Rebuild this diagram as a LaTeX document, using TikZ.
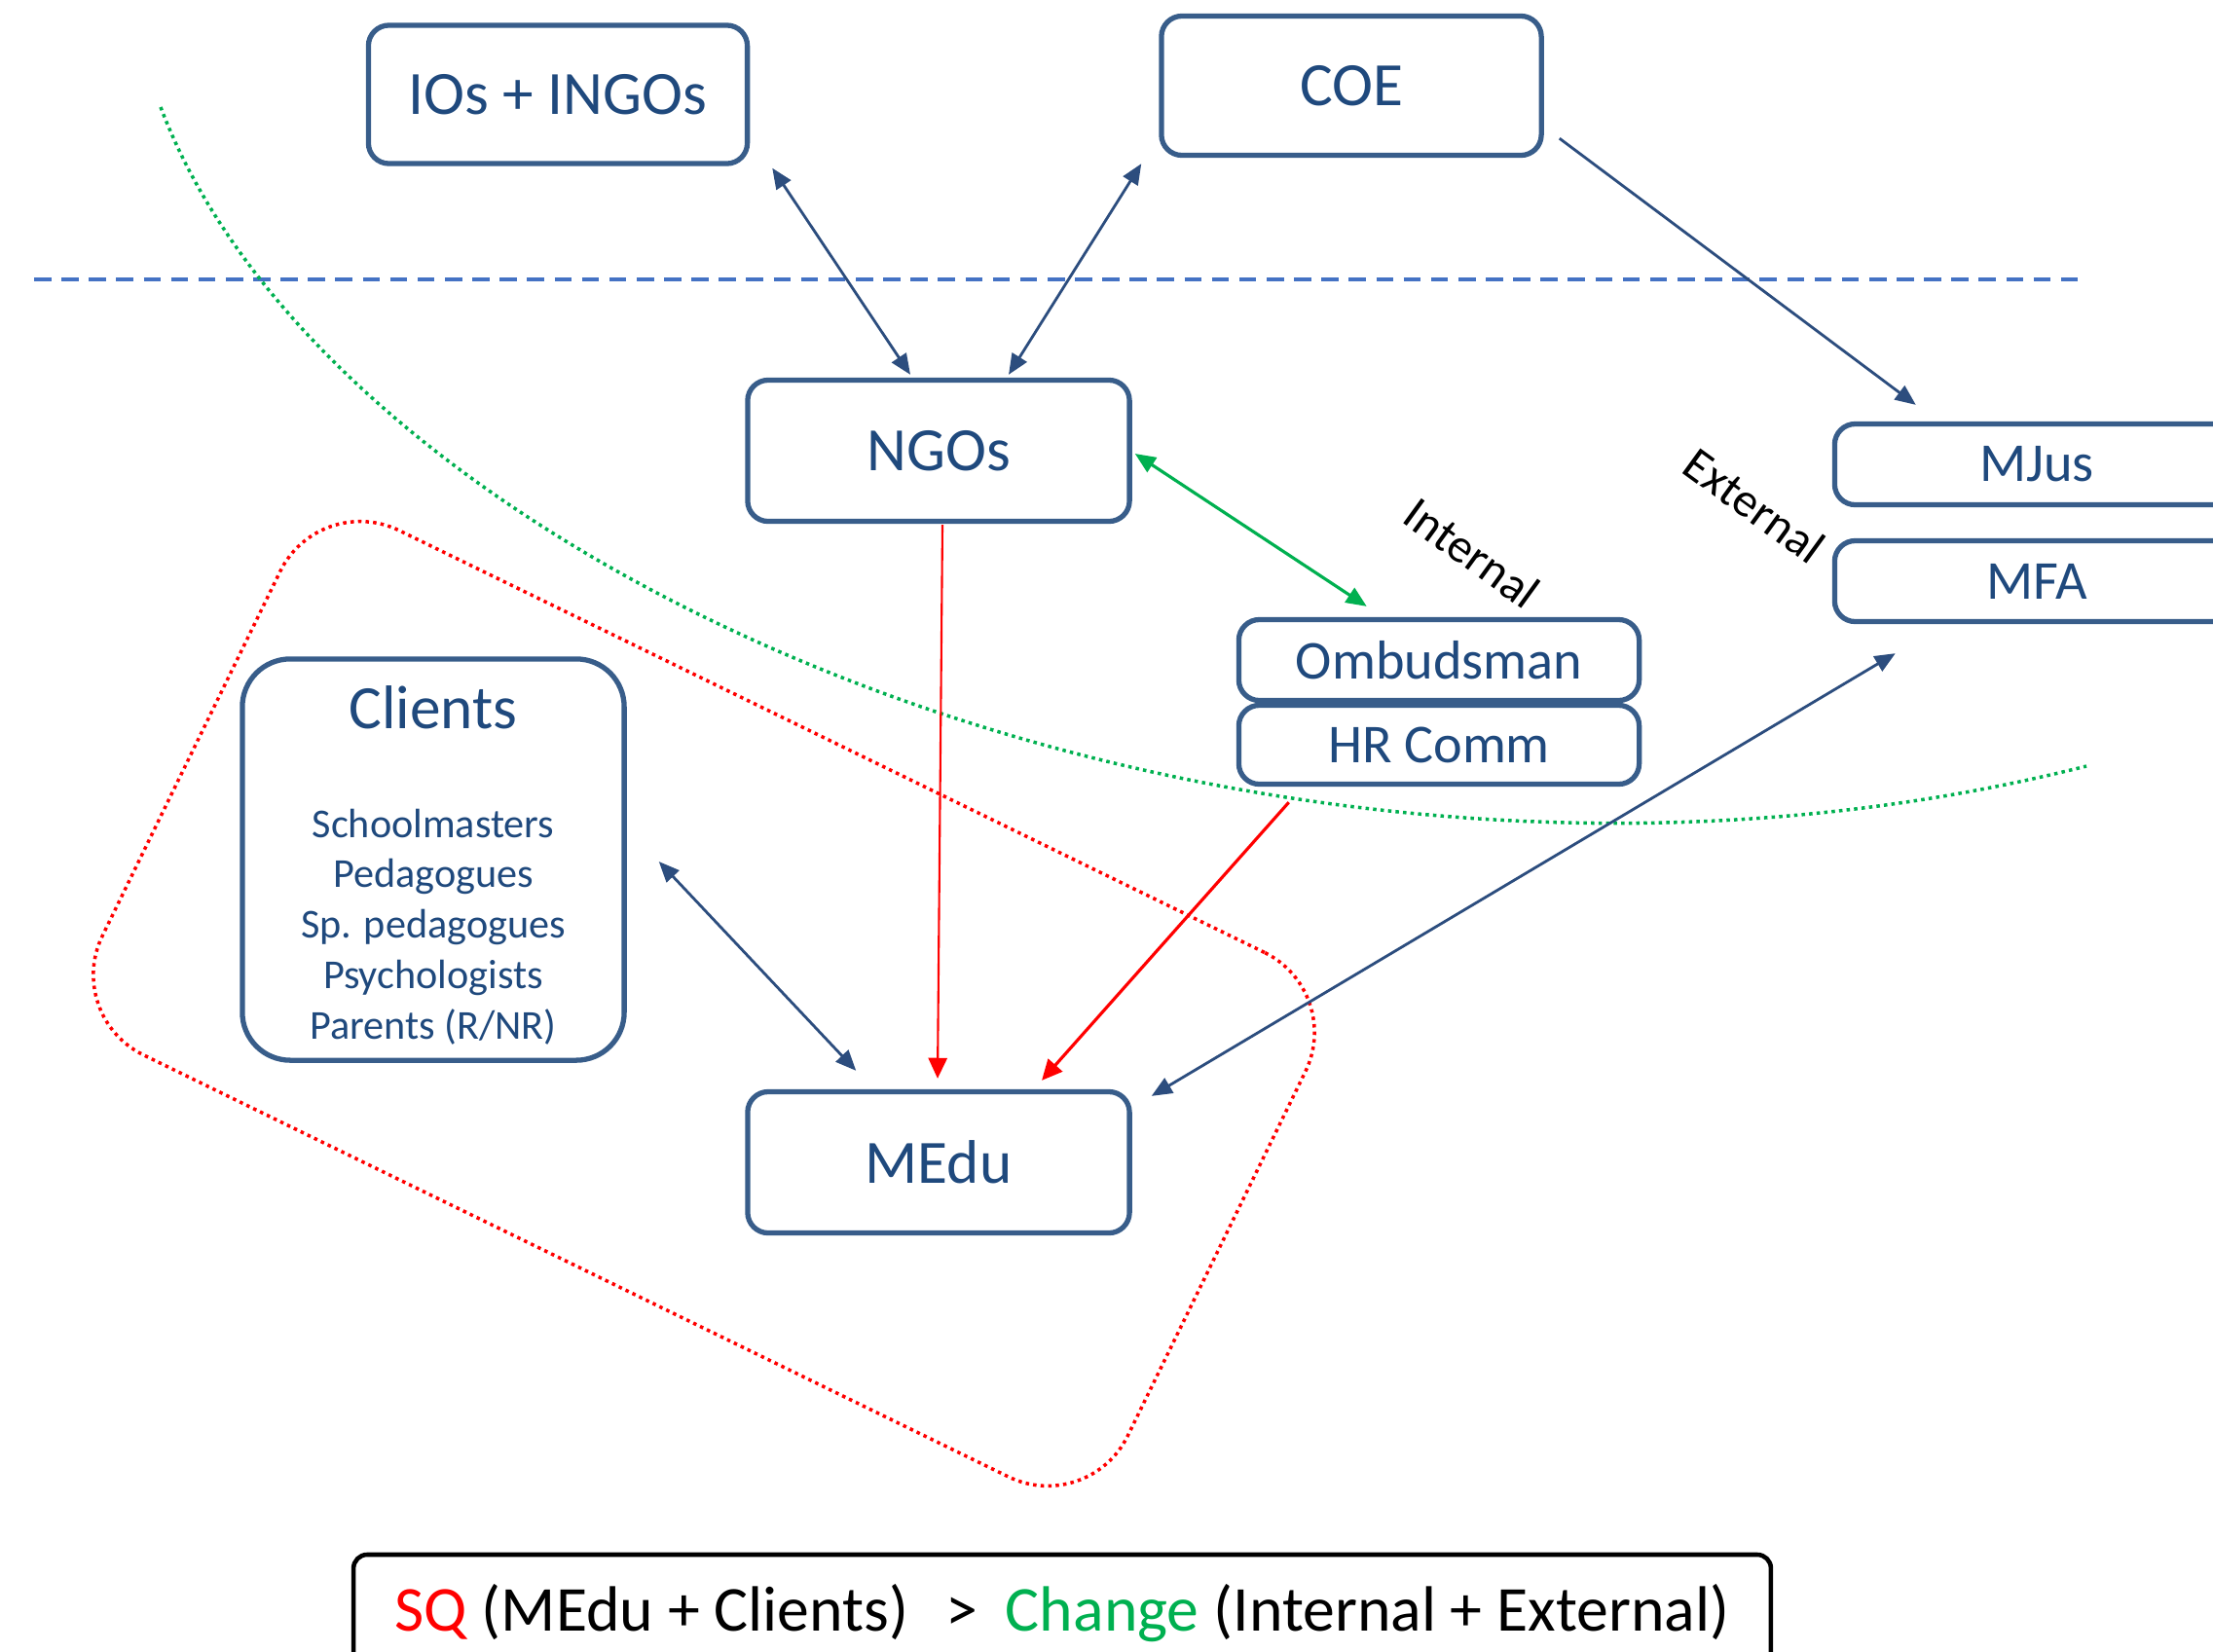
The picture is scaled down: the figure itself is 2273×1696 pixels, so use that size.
\documentclass[tikz,border=0pt]{standalone}
\usepackage{fontspec}
\setmainfont{Carlito}
\usetikzlibrary{arrows.meta}
\definecolor{boxblue}{HTML}{385D8A}
\definecolor{txtblue}{HTML}{1F497D}
\definecolor{arrblue}{HTML}{2C4D7E}
\definecolor{lineblue}{HTML}{4472C4}
\definecolor{chgreen}{HTML}{00B050}
\begin{document}
\begin{tikzpicture}[x=0.01cm, y=-0.01cm]
  %
  \tikzstyle{box} = [draw=boxblue, line width=1.5pt, rounded corners=6pt, text=txtblue, inner sep=0pt, font=\fontsize{18}{22}\selectfont]
  \tikzstyle{smallbox} = [box, font=\fontsize{16}{19}\selectfont]
  \tikzstyle{link} = [draw=arrblue, line width=0.8pt, {Triangle[length=6pt,width=5pt]}-{Triangle[length=6pt,width=5pt]}]
  \tikzstyle{onelink} = [link, -{Triangle[length=6pt,width=5pt]}]
  \tikzstyle{redlink} = [draw=red, line width=0.9pt, -{Triangle[length=6pt,width=5.5pt]}]
  \tikzstyle{greenlink} = [draw=chgreen, line width=0.9pt, {Triangle[length=6pt,width=5pt]}-{Triangle[length=6pt,width=5pt]}]
  \tikzstyle{dots} = [line width=1pt, dash pattern=on 1pt off 1.2pt]
  \tikzstyle{side} = [rotate=-36, inner sep=0pt, font=\fontsize{14}{17}\selectfont]
  \useasboundingbox (0,0) rectangle (2273,1696);
  \clip (0,0) rectangle (2273,1696);
  % outside / inside
  \draw[lineblue, line width=1pt, dash pattern=on 5pt off 3pt] (35,287) -- (2143,287);
  \draw[dots, chgreen] (165,110) .. controls (350,600) and (1300,1000) .. (2143,787);
  \node[dots, draw=red, rounded corners=26pt, rotate=-26, minimum width=11.71cm, minimum height=5.99cm] (sqzone) at (723,1031) {};
  % actors
  \node[box, minimum width=3.89cm, minimum height=1.42cm] (ios) at (573,97) {IOs + INGOs};
  \node[box, minimum width=3.90cm, minimum height=1.43cm] (coe) at (1388,88) {COE};
  \node[box, minimum width=3.92cm, minimum height=1.45cm] (ngos) at (964,463) {NGOs};
  \node[box, minimum width=3.92cm, minimum height=1.45cm] (medu) at (964,1194) {MEdu};
  \node[smallbox, minimum width=4.11cm, minimum height=0.83cm] (omb) at (1478,678) {Ombudsman};
  \node[smallbox, minimum width=4.11cm, minimum height=0.81cm] (hrc) at (1478,765) {HR Comm};
  \node[smallbox, minimum width=4.15cm, minimum height=0.83cm] (mjus) at (2092,477) {MJus};
  \node[smallbox, minimum width=4.15cm, minimum height=0.83cm] (mfa) at (2092,597) {MFA};
  \node[box, rounded corners=14pt, minimum width=3.92cm, minimum height=4.12cm] (clients) at (445,883) {};
  \node[text=txtblue, font=\fontsize{18}{22}\selectfont] (cltitle) at (445,727) {Clients};
  \node[text=txtblue, align=center, font=\fontsize{12}{14.75}\selectfont] (cllist) at (445,952)
    {Schoolmasters\\Pedagogues\\Sp. pedagogues\\Psychologists\\Parents (R/NR)};
  \node[side] (intl) at (1512,568) {Internal};
  \node[side] (extl) at (1802,519) {External};
  % links
  \draw[link] ([shift={(23,2)}]ios.south east) -- ([shift={(-29,-3)}]ngos.north);
  \draw[link] ([shift={(-18,6)}]coe.south west) -- ([shift={(72,-3)}]ngos.north);
  \draw[onelink] ([shift={(16,-20)}]coe.south east) -- ([shift={(86,-17)}]mjus.north west);
  \draw[greenlink] ([shift={(3,3)}]ngos.east) -- ([shift={(134,-11)}]omb.north west);
  \draw[redlink, line width=0.6pt] ([shift={(4,1)}]ngos.south) -- ([shift={(-1,-11)}]medu.north);
  \draw[redlink] ([shift={(54,16)}]hrc.south west) -- ([shift={(106,-9)}]medu.north);
  \draw[link] ([shift={(33,2)}]clients.east) -- ([shift={(114,-19)}]medu.north west);
  \draw[link] ([shift={(65,30)}]mfa.south west) -- ([shift={(20,7)}]medu.north east);
  % summary
  \node[draw=black, line width=1.3pt, rounded corners=4pt, minimum width=14.55cm, minimum height=1.2cm, font=\fontsize{18.7}{22}\selectfont] (sq) at (1091,1657)
    {\textcolor{red}{SQ} (MEdu + Clients)\hspace{11pt}>\hspace{8pt}\textcolor{chgreen}{Change} (Internal + External)};
\end{tikzpicture}
\end{document}
